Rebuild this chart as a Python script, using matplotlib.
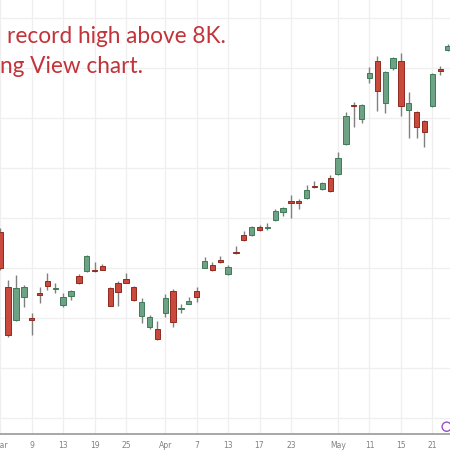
import matplotlib
matplotlib.use("Agg")
import matplotlib.pyplot as plt
from matplotlib.patches import Rectangle, Circle

# ---- data ----
opens  = [7272, 7052, 6920, 7012, 6928, 7028, 7076, 7044, 6980, 7016,
          7096, 7116, 7122, 7136, 7048, 7068, 7086, 7052, 6936, 6892,
          6884, 6948, 7036, 6964, 6986, 7036, 7130, 7140, 7160, 7104,
          7194, 7262, 7262, 7292, 7290, 7320, 7353, 7396, 7397, 7410,
          7458, 7443, 7489, 7506, 7625, 7782, 7723, 7887, 7957, 7787,
          7927, 7957, 7760, 7753, 7716, 7776, 7926, 8000]
highs  = [7288, 7080, 7100, 7060, 6948, 7052, 7108, 7068, 7028, 7040,
          7104, 7180, 7152, 7144, 7052, 7076, 7108, 7056, 7008, 6940,
          6916, 7024, 7044, 6984, 7012, 7052, 7172, 7152, 7176, 7140,
          7218, 7276, 7296, 7300, 7310, 7364, 7372, 7420, 7404, 7460,
          7476, 7474, 7500, 7592, 7753, 7792, 7784, 7933, 7975, 7918,
          7972, 7989, 7833, 7758, 7720, 7908, 7936, 8024]
lows   = [7120, 6852, 6916, 6972, 6860, 6988, 7040, 7028, 6972, 7000,
          7064, 7112, 7112, 7120, 6976, 6976, 7068, 6996, 6908, 6884,
          6840, 6932, 6892, 6948, 6984, 6992, 7128, 7116, 7148, 7100,
          7186, 7236, 7256, 7276, 7280, 7316, 7336, 7328, 7364, 7406,
          7448, 7440, 7432, 7502, 7622, 7692, 7709, 7867, 7756, 7747,
          7922, 7736, 7647, 7647, 7613, 7772, 7900, 7996]
closes = [7128, 6860, 7048, 7052, 6920, 7022, 7056, 7050, 7012, 7036,
          7068, 7176, 7118, 7122, 6978, 7034, 7070, 7000, 6992, 6932,
          6844, 7008, 6912, 6968, 6998, 7012, 7158, 7120, 7152, 7134,
          7190, 7240, 7292, 7280, 7294, 7357, 7367, 7389, 7389, 7442,
          7454, 7470, 7435, 7567, 7736, 7778, 7780, 7907, 7837, 7913,
          7967, 7776, 7787, 7693, 7673, 7903, 7915, 8016]

tick_pos    = [0, 4, 8, 12, 16, 21, 25, 29, 33, 37, 43, 47, 51, 55]
tick_labels = ["Mar", "9", "13", "19", "25", "Apr", "7", "13", "17", "23",
               "May", "11", "15", "21"]
grid_prices = [6528, 6728, 6928, 7128, 7328, 7528, 7728, 7928, 8128]

title_line1 = "record high above 8K."
title_line2 = "ng View chart."

# ---- styles ----
UP_FILL, UP_EDGE = "#6da384", "#3f7a58"
DN_FILL, DN_EDGE = "#c9493c", "#8f2a20"
WICK = "#808080"
GRID = "#efefef"

W, H = 450, 450
fig = plt.figure(figsize=(4.5, 4.5), dpi=100)
fig.patch.set_facecolor("white")
axis_y = 434
ax = fig.add_axes([0, 1 - axis_y / H, 1, axis_y / H])
ax.set_facecolor("white")

ymax, ymin = 8200, 8200 - 4 * axis_y
ax.set_xlim(-0.036, 57.25)
ax.set_ylim(ymin, ymax)

# grid
for t in tick_pos:
    ax.axvline(t, color=GRID, lw=0.9, zorder=0)
for p in grid_prices:
    ax.axhline(p, color=GRID, lw=0.9, zorder=0)

bw = 0.68
for i, (o, h, l, c) in enumerate(zip(opens, highs, lows, closes)):
    up = c >= o
    fc, ec = (UP_FILL, UP_EDGE) if up else (DN_FILL, DN_EDGE)
    ax.vlines(i, l, h, color=WICK, lw=1.0, zorder=2)
    lo, hi = min(o, c), max(o, c)
    hgt = max(hi - lo, 3)
    ax.add_patch(Rectangle((i - bw / 2, lo), bw, hgt, facecolor=fc,
                           edgecolor=ec, lw=0.7, zorder=3))

for s in ["top", "right", "left"]:
    ax.spines[s].set_visible(False)
ax.spines["bottom"].set_color("#a0a0a0")
ax.spines["bottom"].set_linewidth(1.3)
ax.set_yticks([])
ax.set_xticks(tick_pos)
ax.set_xticklabels(tick_labels, fontsize=5.5, color="#808080")
ax.tick_params(axis="x", length=0, pad=5)

# title text (red, partly cut at the left edge)
fig.text(7 / W, 1 - 43 / H, title_line1, color="#c2333a", fontsize=16.3,
         family="Lato", ha="left", va="baseline")
fig.text(0 / W, 1 - 73 / H, title_line2, color="#c2333a", fontsize=16.3,
         family="Lato", ha="left", va="baseline")

# small purple icon at bottom right
fig.patches.append(Circle((446.7 / W, 1 - 426.7 / H), 4.6 / W,
                          transform=fig.transFigure, facecolor="white",
                          edgecolor="#9c4fc4", lw=1.0))

fig.savefig("out.png", dpi=100)
